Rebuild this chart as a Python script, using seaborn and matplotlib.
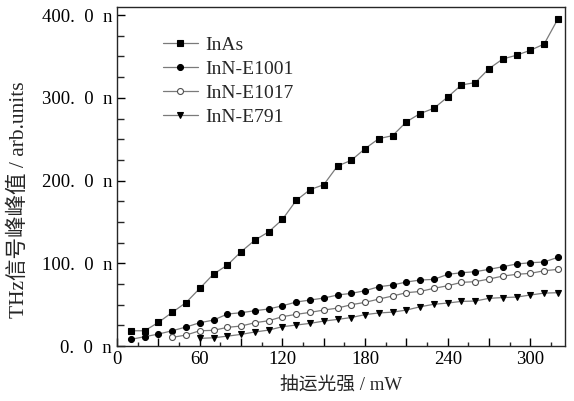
import numpy as np
import pandas as pd
import matplotlib
matplotlib.use("Agg")
from matplotlib import pyplot as plt
from matplotlib.ticker import MultipleLocator, FuncFormatter
import seaborn as sns

# pump power (mW)
x_all = list(range(10, 330, 10))
x_1017 = list(range(40, 330, 10))
x_791 = list(range(60, 330, 10))

# THz peak-to-peak signal (n arb.units)
inas = [18.5, 18.5, 28.6, 40.7, 52.5, 69.7, 87, 97.8, 114, 128, 138, 153, 176, 189, 195, 217.6,
        224.5, 238.6, 250.7, 254.3, 271, 281, 287.4, 301, 315.6, 318.4, 335.3, 347, 351.5, 357.5, 365, 395.4]
inn_e1001 = [8.1, 11.3, 14.5, 18.5, 23, 28.2, 31.4, 38.7, 40.3, 42.7, 44.8, 48.7, 53.2, 55.6, 58, 61.7,
             63.7, 66.9, 71.7, 73.8, 77.4, 79.8, 80.6, 86.7, 88.6, 89.9, 92.7, 95.9, 99.2, 100.7, 101.6, 107.3]
inn_e1017 = [10.5, 13.3, 18.5, 19, 22.6, 24.2, 28.2, 30.6, 35.5, 38.3, 40.7, 43.5, 45.9, 50, 52.8,
             56.8, 60.5, 64.5, 66, 69.8, 72.9, 77, 77.8, 81, 84.6, 86.7, 87.9, 91, 92.7]
inn_e791 = [9.3, 10, 12, 14.1, 17, 19.3, 23.4, 25.4, 27.4, 30.2, 32.2, 34.5, 38, 40, 41, 43.5,
            47.5, 50.5, 52, 54, 54.4, 57.7, 58.6, 59.2, 61.7, 64, 64.5]

sns.set_style("ticks")
plt.rcParams['font.family'] = ['Liberation Serif', 'Noto Sans CJK SC']
plt.rcParams['axes.linewidth'] = 1.0

fig = plt.figure(figsize=(5.74, 4.01), dpi=100)
ax = fig.add_axes([0.204, 0.137, 0.78, 0.846])

line_kw = dict(color='#7a7a7a', linewidth=0.9, markersize=4.3, markeredgewidth=0.8)
sns.lineplot(x=x_all, y=inas, ax=ax, marker='s', markerfacecolor='black',
             markeredgecolor='black', label='InAs', **line_kw)
sns.lineplot(x=x_all, y=inn_e1001, ax=ax, marker='o', markerfacecolor='black',
             markeredgecolor='black', label='InN-E1001', **line_kw)
sns.lineplot(x=x_1017, y=inn_e1017, ax=ax, marker='o', markerfacecolor='white',
             markeredgecolor='#505050', label='InN-E1017', **line_kw)
sns.lineplot(x=x_791, y=inn_e791, ax=ax, marker='v', markerfacecolor='black',
             markeredgecolor='black', label='InN-E791', **line_kw)

ax.set_xlim(0, 325)
ax.set_ylim(0, 410)
ax.xaxis.set_major_locator(MultipleLocator(30))
ax.xaxis.set_minor_locator(MultipleLocator(15))
ax.xaxis.set_major_formatter(FuncFormatter(lambda v, p: f"{int(v)}" if int(round(v)) % 60 == 0 else ""))
ax.yaxis.set_major_locator(MultipleLocator(100))
ax.yaxis.set_minor_locator(MultipleLocator(25))
ax.yaxis.set_major_formatter(FuncFormatter(lambda v, p: f"{v:.1f}".replace('.', '.\u2002') + "\u2002n"))
ax.tick_params(which='major', direction='in', length=6, width=1, labelsize=13.5, colors='black')
ax.tick_params(which='minor', direction='in', length=3, width=1)
ax.tick_params(axis='y', which='minor', length=5)

ax.set_xlabel('抽运光强 / mW', fontsize=13.5, labelpad=7)
ax.set_ylabel('THz信号峰峰值 / arb.units', fontsize=15.5)
ax.yaxis.set_label_coords(-0.197, 0.43)

leg = ax.legend(loc='upper left', bbox_to_anchor=(0.085, 0.935), frameon=False, fontsize=14,
                handlelength=1.8, handletextpad=0.4, labelspacing=0.32, borderaxespad=0)

plt.savefig('out.png', dpi=100)
